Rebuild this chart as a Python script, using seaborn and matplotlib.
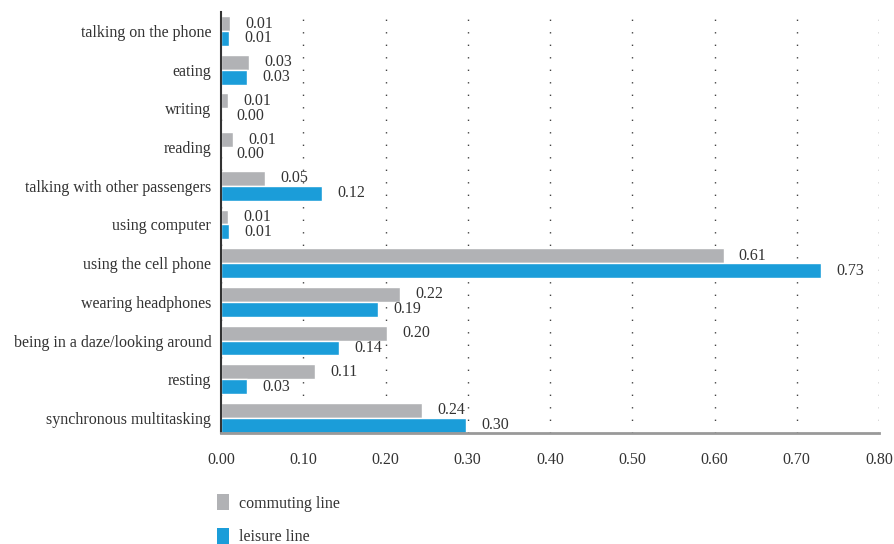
import matplotlib
matplotlib.use("Agg")
import matplotlib.pyplot as plt
import seaborn as sns
import pandas as pd
from matplotlib.patches import Patch

categories = ["talking on the phone", "eating", "writing", "reading",
              "talking with other passengers", "using computer",
              "using the cell phone", "wearing headphones",
              "being in a daze/looking around", "resting",
              "synchronous multitasking"]
commuting = [0.011, 0.034, 0.0085, 0.0146, 0.0535, 0.0085, 0.611, 0.218, 0.202, 0.114, 0.244]
leisure = [0.0097, 0.032, 0.0, 0.0, 0.123, 0.0097, 0.729, 0.191, 0.144, 0.032, 0.298]
series_names = ["commuting line", "leisure line"]
colors = ["#B1B2B5", "#1B9DD9"]
xticks = [0.0, 0.1, 0.2, 0.3, 0.4, 0.5, 0.6, 0.7, 0.8]

sns.set_theme(style="white")
plt.rcParams['font.family'] = ['Liberation Serif', 'DejaVu Serif']
txt = "#333333"

df = pd.DataFrame({
    "activity": categories * 2,
    "value": commuting + leisure,
    "series": [series_names[0]] * len(categories) + [series_names[1]] * len(categories),
})

fig = plt.figure(figsize=(8.94, 5.44), dpi=100)
ax = fig.add_axes([221 / 894, 1 - 433 / 544, (879 - 221) / 894, (433 - 12) / 544])

sns.barplot(data=df, y="activity", x="value", hue="series", orient="h",
            palette=colors, width=0.77, saturation=1, ax=ax, legend=False,
            order=categories, hue_order=series_names)

for cont in ax.containers:
    ax.bar_label(cont, labels=[f"{b.get_width():.2f}" for b in cont],
                 padding=11, fontsize=11.5, color=txt)

ax.set_xlim(0, 0.8)
ax.set_ylim(10.39, -0.49)
ax.set_xticks(xticks)
ax.set_xticklabels([f"{t:.2f}" for t in xticks], fontsize=11.5, color=txt)
ax.tick_params(axis="y", labelsize=11.5, labelcolor=txt, length=0, pad=7)
ax.tick_params(axis="x", length=0, pad=14)
ax.set_xlabel("")
ax.set_ylabel("")
ax.xaxis.grid(True, linestyle=(0, (1, 8)), color="#444444", linewidth=1)
ax.yaxis.grid(False)
ax.set_axisbelow(True)
for s in ["top", "right"]:
    ax.spines[s].set_visible(False)
ax.spines["left"].set_color("#333333")
ax.spines["left"].set_linewidth(1.5)
ax.spines["bottom"].set_color("#999999")
ax.spines["bottom"].set_linewidth(2)

handles = [Patch(facecolor=c, edgecolor="none") for c in colors]
fig.legend(handles, series_names, loc="upper left",
           bbox_to_anchor=(211 / 894, 1 - 488 / 544), frameon=False,
           fontsize=11.5, handlelength=0.75, handleheight=1.15, labelspacing=1.0,
           handletextpad=0.6, labelcolor=txt, borderaxespad=0)

fig.savefig("out.png", dpi=100)
